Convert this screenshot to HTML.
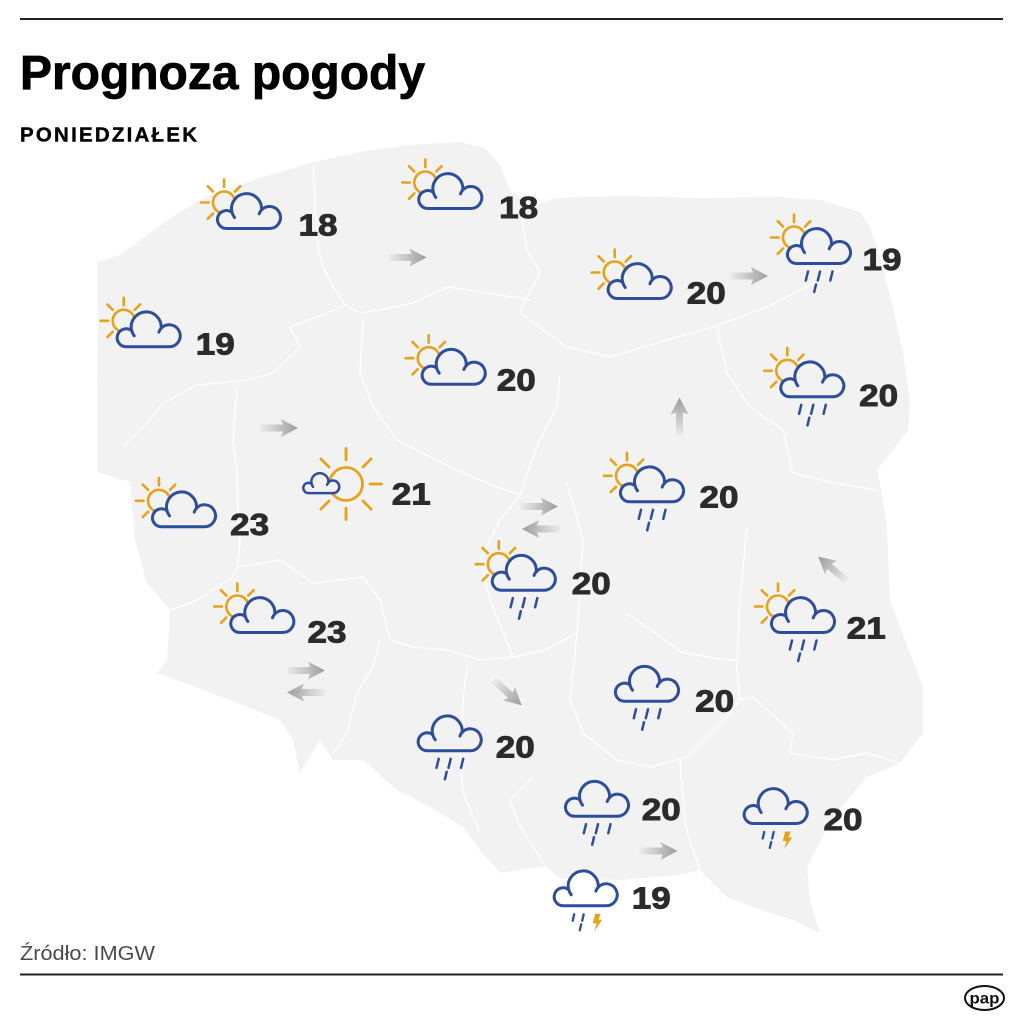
<!DOCTYPE html>
<html>
<head>
<meta charset="utf-8">
<style>
html,body{margin:0;padding:0;background:#fff;}
svg{display:block;}
</style>
</head>
<body>
<svg width="1024" height="1024" viewBox="0 0 1024 1024" xmlns="http://www.w3.org/2000/svg">
<defs>
  <linearGradient id="ag" gradientUnits="userSpaceOnUse" x1="-19" y1="0" x2="19" y2="0">
    <stop offset="0" stop-color="#ececec"/>
    <stop offset="1" stop-color="#9c9c9c"/>
  </linearGradient>
  <path id="arr" d="M-19,-3.5 L4,-3.5 L2,-9 L19,0 L2,9 L4,3.5 L-19,3.5 Z" fill="url(#ag)"/>
  <g id="cl">
    <path d="M11,37 A9,9 0 1 1 16.5,20.9 A15,15 0 1 1 45.96,18.5 A11,11 0 1 1 54,37 Z" fill="#f2f2f2"/>
    <path d="M16.5,20.9 A15,15 0 0 0 19,26 M45.96,18.5 A11,11 0 0 0 43.7,22.3" fill="none"/>
  </g>
  <g id="clw">
    <path d="M11,37 A9,9 0 1 1 16.5,20.9 A15,15 0 1 1 45.96,18.5 A11,11 0 1 1 54,37 Z" fill="#ffffff"/>
    <path d="M16.5,20.9 A15,15 0 0 0 19,26 M45.96,18.5 A11,11 0 0 0 43.7,22.3" fill="none"/>
  </g>
  <g id="sun" stroke="#e7a21b" stroke-width="2.6" stroke-linecap="round" fill="none">
    <circle cx="8.5" cy="11" r="11"/>
    <line x1="8.5" y1="-4.5" x2="8.5" y2="-12"/>
    <line x1="-7" y1="11" x2="-14.5" y2="11"/>
    <line x1="-2.5" y1="0" x2="-7.8" y2="-5.3"/>
    <line x1="19.5" y1="0" x2="24.8" y2="-5.3"/>
    <line x1="-2.5" y1="22" x2="-7.8" y2="27.3"/>
  </g>
  <g id="rain" stroke="#2e4d9b" stroke-width="2.5" stroke-linecap="round" fill="none">
    <line x1="22.5" y1="45" x2="20.3" y2="54"/>
    <line x1="34.5" y1="45" x2="32.3" y2="54"/>
    <line x1="47" y1="45" x2="44.8" y2="54"/>
    <line x1="30.5" y1="58" x2="28.7" y2="65.5"/>
  </g>
  <g id="thun">
    <g stroke="#2e4d9b" stroke-width="2.3" stroke-linecap="round" fill="none">
      <line x1="22" y1="45.5" x2="20.5" y2="52"/>
      <line x1="31.5" y1="45.5" x2="30" y2="52"/>
      <line x1="29" y1="55.5" x2="27.6" y2="61.5"/>
    </g>
    <polygon points="43,45 48.5,45 46.3,51 50,51 42,62.5 44.3,54.5 40.5,54.5" fill="#e7a21b"/>
  </g>
  <g id="cloud" stroke="#2e4d9b" stroke-width="3" stroke-linecap="round" stroke-linejoin="round">
    <use href="#cl"/>
  </g>
  <g id="cloudw" stroke="#2e4d9b" stroke-width="3" stroke-linecap="round" stroke-linejoin="round">
    <use href="#clw"/>
  </g>
</defs>

<rect width="1024" height="1024" fill="#fff"/>

<!-- map -->
<polygon fill="#f2f2f2" points="97,262 120,255 140,240 175,215 210,195 260,178 310,163 360,152 410,145 460,142 485,148 500,165 510,190 530,207 555,198 620,196 700,198 780,197 820,200 860,212 870,227 880,257 893,307 903,353 910,403 908,430 893,450 877,470 883,500 887,527 890,600 910,653 923,687 923,733 900,763 867,777 833,817 807,867 810,900 820,933 793,920 760,910 727,897 700,870 680,875 620,880 560,878 545,866 520,870 500,873 480,850 463,827 430,807 397,790 363,760 333,760 320,740 300,773 293,740 280,720 230,700 190,685 157,673 167,660 170,610 147,583 135,540 130,482 97,472 97,390 98,330"/>
<g fill="none" stroke="#ffffff" stroke-width="1.5" stroke-linejoin="round" opacity="0.85">
  <polyline points="313,166 317,240 323,267 333,287 345,305 360,313 380,310 413,303 447,287 480,292 513,297 530,300"/>
  <polyline points="345,305 330,312 290,327 300,347 273,373 247,380 197,385 163,403 147,423 125,445"/>
  <polyline points="237,387 233,440 237,473 238,510 240,545 237,567"/>
  <polyline points="363,320 360,373 373,407 397,440 430,457 463,473 497,487 520,495"/>
  <polyline points="520,207 527,250 540,273 525,300 520,313 567,347 610,357 667,340 713,327 767,307 800,290 820,280 850,265"/>
  <polyline points="717,327 727,373 750,407 783,430 793,473 833,483 877,490"/>
  <polyline points="560,373 557,407 540,440 527,473 520,495 500,520 490,540"/>
  <polyline points="567,483 583,540 577,633 570,700 583,733 617,760 650,767 687,757 727,717 740,700"/>
  <polyline points="747,527 740,600 737,667 740,700 753,697 793,733 790,753 833,760 867,753 900,763"/>
  <polyline points="627,613 683,653 727,660 740,660"/>
  <polyline points="680,760 683,800 687,833 700,870"/>
  <polyline points="163,613 197,600 233,577 237,567 280,560 313,583 363,577 380,600 390,640 413,647 447,650 480,660 513,657 545,650 577,633"/>
  <polyline points="380,640 373,667 357,693 347,733 333,753"/>
  <polyline points="467,667 463,700 460,753 463,793 480,833"/>
  <polyline points="533,777 510,800 520,827 537,853 545,866"/>
  <polyline points="490,540 480,560 490,600 513,657"/>
</g>

<!-- arrows -->
<use href="#arr" transform="translate(407.5,257.5)"/>
<use href="#arr" transform="translate(279,428)"/>
<use href="#arr" transform="translate(539,506.5)"/>
<use href="#arr" transform="translate(541,529) rotate(180)"/>
<use href="#arr" transform="translate(749,276)"/>
<use href="#arr" transform="translate(679.5,416.5) rotate(-90)"/>
<use href="#arr" transform="translate(832.5,569) rotate(-139)"/>
<use href="#arr" transform="translate(306,670.5)"/>
<use href="#arr" transform="translate(306,692.5) rotate(180)"/>
<use href="#arr" transform="translate(507.5,692.5) rotate(42)"/>
<use href="#arr" transform="translate(658.5,851)"/>

<!-- partly cloudy -->
<g transform="translate(215.5,191.5)"><use href="#sun"/><use href="#cloud"/></g>
<g transform="translate(416.8,171.5)"><use href="#sun"/><use href="#cloud"/></g>
<g transform="translate(115.2,309.8)"><use href="#sun"/><use href="#cloud"/></g>
<g transform="translate(420.2,347.2)"><use href="#sun"/><use href="#cloud"/></g>
<g transform="translate(150.5,489.8)"><use href="#sun"/><use href="#cloud"/></g>
<g transform="translate(228.8,595.5)"><use href="#sun"/><use href="#cloud"/></g>
<g transform="translate(606.2,261.5)"><use href="#sun"/><use href="#cloud"/></g>

<!-- partly cloudy with rain -->
<g transform="translate(785.5,226.5)"><use href="#sun"/><use href="#cloud"/><use href="#rain"/></g>
<g transform="translate(778.8,359.8)"><use href="#sun"/><use href="#cloud"/><use href="#rain"/></g>
<g transform="translate(618.5,464.8)"><use href="#sun"/><use href="#cloud"/><use href="#rain"/></g>
<g transform="translate(490.3,553.2)"><use href="#sun"/><use href="#cloud"/><use href="#rain"/></g>
<g transform="translate(769.5,595.5)"><use href="#sun"/><use href="#cloud"/><use href="#rain"/></g>

<!-- rain -->
<g transform="translate(613.5,664.2)"><use href="#cloud"/><use href="#rain"/></g>
<g transform="translate(416.2,713.8)"><use href="#cloud"/><use href="#rain"/></g>
<g transform="translate(563.5,779.2)"><use href="#cloud"/><use href="#rain"/></g>

<!-- thunder -->
<g transform="translate(742.2,786.5)"><use href="#cloud"/><use href="#thun"/></g>
<g transform="translate(552.2,868.8)"><use href="#cloudw"/><use href="#thun"/></g>

<!-- mostly sunny -->
<g stroke="#e7a21b" stroke-width="2.8" stroke-linecap="round" fill="none">
  <circle cx="346" cy="484" r="16.5"/>
  <line x1="346" y1="460" x2="346" y2="448.5"/>
  <line x1="346" y1="508" x2="346" y2="519.5"/>
  <line x1="370" y1="484" x2="381.5" y2="484"/>
  <line x1="363" y1="467" x2="371.1" y2="458.9"/>
  <line x1="363" y1="501" x2="371.1" y2="509.1"/>
  <line x1="329" y1="467" x2="320.9" y2="458.9"/>
  <line x1="329" y1="501" x2="320.9" y2="509.1"/>
</g>
<g transform="translate(302.2,472) scale(0.57)" stroke="#2e4d9b" stroke-width="4.4" stroke-linecap="round" stroke-linejoin="round">
  <use href="#cl"/>
</g>

<!-- numbers -->
<g font-family="'Liberation Sans', Arial, sans-serif" font-weight="bold" font-size="31" fill="#2b2b2b" stroke="#2b2b2b" stroke-width="0.9">
  <text x="298.5" y="235.5" textLength="39" lengthAdjust="spacingAndGlyphs">18</text>
  <text x="499.2" y="218" textLength="39" lengthAdjust="spacingAndGlyphs">18</text>
  <text x="195.8" y="354.3" textLength="39" lengthAdjust="spacingAndGlyphs">19</text>
  <text x="496.8" y="390.7" textLength="39" lengthAdjust="spacingAndGlyphs">20</text>
  <text x="230.2" y="535" textLength="39" lengthAdjust="spacingAndGlyphs">23</text>
  <text x="391.8" y="504.3" textLength="39" lengthAdjust="spacingAndGlyphs">21</text>
  <text x="307.5" y="642.7" textLength="39" lengthAdjust="spacingAndGlyphs">23</text>
  <text x="686.8" y="303.3" textLength="39" lengthAdjust="spacingAndGlyphs">20</text>
  <text x="862.5" y="270" textLength="39" lengthAdjust="spacingAndGlyphs">19</text>
  <text x="859.2" y="406" textLength="39" lengthAdjust="spacingAndGlyphs">20</text>
  <text x="699.5" y="507.7" textLength="39" lengthAdjust="spacingAndGlyphs">20</text>
  <text x="571.8" y="594" textLength="39" lengthAdjust="spacingAndGlyphs">20</text>
  <text x="846.8" y="638.3" textLength="39" lengthAdjust="spacingAndGlyphs">21</text>
  <text x="695.2" y="711.7" textLength="39" lengthAdjust="spacingAndGlyphs">20</text>
  <text x="495.8" y="757.7" textLength="39" lengthAdjust="spacingAndGlyphs">20</text>
  <text x="641.8" y="820" textLength="39" lengthAdjust="spacingAndGlyphs">20</text>
  <text x="823.5" y="830" textLength="39" lengthAdjust="spacingAndGlyphs">20</text>
  <text x="631.8" y="908.3" textLength="39" lengthAdjust="spacingAndGlyphs">19</text>
</g>

<!-- header -->
<line x1="20" y1="19" x2="1003" y2="19" stroke="#222" stroke-width="2"/>
<text x="20" y="89" font-family="'Liberation Sans', Arial, sans-serif" font-weight="bold" font-size="48" fill="#000" stroke="#000" stroke-width="0.8" textLength="405" lengthAdjust="spacingAndGlyphs">Prognoza pogody</text>
<text x="20" y="141.7" font-family="'Liberation Sans', Arial, sans-serif" font-weight="bold" font-size="20.5" fill="#000" stroke="#000" stroke-width="0.4" textLength="177" lengthAdjust="spacing">PONIEDZIAŁEK</text>

<!-- footer -->
<text x="20" y="960" font-family="'Liberation Sans', Arial, sans-serif" font-size="20.5" fill="#4a4a4a" textLength="135" lengthAdjust="spacingAndGlyphs">Źródło: IMGW</text>
<line x1="20" y1="974.5" x2="1003" y2="974.5" stroke="#222" stroke-width="2"/>
<ellipse cx="984.5" cy="998" rx="19.5" ry="12" fill="#fff" stroke="#111" stroke-width="2"/>
<text x="984.5" y="1003.5" text-anchor="middle" font-family="'Liberation Sans', Arial, sans-serif" font-weight="bold" font-size="16" fill="#111" textLength="30" lengthAdjust="spacingAndGlyphs">pap</text>
</svg>
</body>
</html>
